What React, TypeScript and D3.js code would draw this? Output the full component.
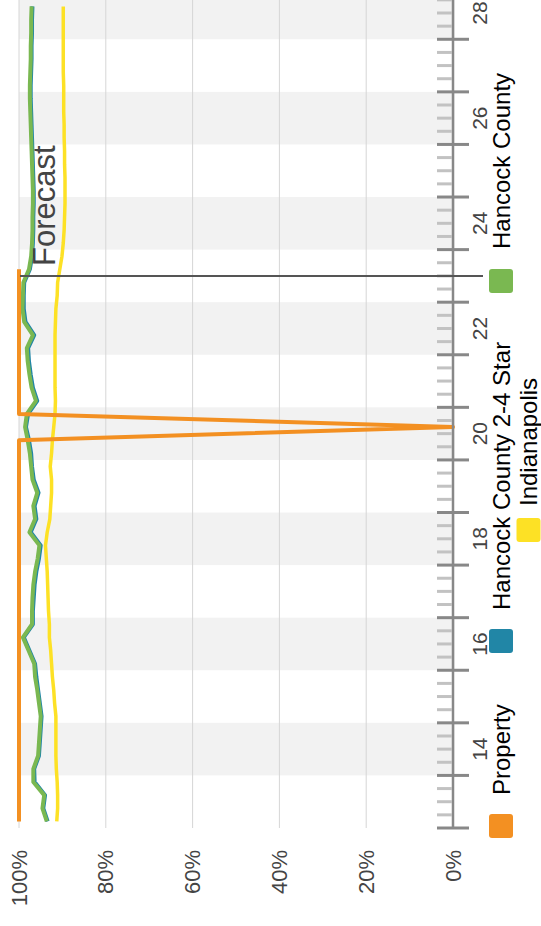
import React from 'react';
import * as d3 from 'd3';

// ---------- data ----------
const weekLabels = [14, 16, 18, 20, 22, 24, 26, 28];
const yTickValues = [0, 20, 40, 60, 80, 100];
const forecastIndex = 42; // first period of forecast (boundary before it)

const property = [
  100, 100, 100, 100, 100, 100, 100, 100, 100, 100,
  100, 100, 100, 100, 100, 100, 100, 100, 100, 100,
  100, 100, 100, 100, 100, 100, 100, 100, 100, 100,
  0, 100, 100, 100, 100, 100, 100, 100, 100, 100,
  100, 100, 100,
];

const hancock24Star = [
  93.4, 94.4, 94.0, 96.4, 96.5, 95.4, 95.2, 95.0, 94.8, 95.2,
  95.6, 96.0, 96.3, 97.6, 98.9, 96.8, 96.8, 96.6, 96.4, 96.0,
  95.4, 95.0, 97.3, 96.0, 96.4, 95.5, 96.6, 97.0, 97.2, 97.7,
  98.4, 97.9, 95.8, 96.8, 97.3, 97.7, 97.9, 96.5, 98.5, 98.9,
  98.9, 98.8, 97.5, 97.0, 96.8, 96.7, 96.7, 96.6, 96.6, 96.7,
  96.8, 96.9, 97.0, 97.1, 97.2, 97.3, 97.3, 97.2, 97.1, 97.1,
  97.0, 97.0, 96.9,
];

const hancock = [
  93.6, 94.6, 94.2, 96.7, 96.7, 95.6, 95.4, 95.2, 95.0, 95.4,
  95.8, 96.3, 96.5, 97.8, 99.1, 97.0, 97.0, 96.9, 96.7, 96.3,
  95.7, 95.3, 97.6, 96.3, 96.7, 95.8, 96.9, 97.2, 97.5, 98.0,
  98.6, 98.2, 96.1, 97.1, 97.6, 98.0, 98.2, 96.8, 98.8, 99.2,
  99.1, 99.0, 97.7, 97.2, 97.0, 96.9, 96.9, 96.8, 96.8, 96.9,
  97.0, 97.1, 97.2, 97.3, 97.4, 97.5, 97.5, 97.4, 97.3, 97.3,
  97.2, 97.2, 97.1,
];

const indianapolis = [
  91.3, 91.1, 91.1, 91.2, 91.4, 91.5, 91.5, 91.5, 91.5, 91.8,
  92.0, 92.3, 92.5, 92.7, 93.0, 93.0, 93.2, 93.3, 93.4, 93.5,
  93.7, 93.9, 93.5, 92.9, 92.7, 92.5, 92.5, 92.8, 92.5, 92.3,
  92.0, 91.7, 91.6, 91.7, 91.7, 91.7, 91.7, 91.7, 91.6, 91.5,
  91.2, 91.1, 90.6, 90.1, 89.8, 89.6, 89.5, 89.4, 89.4, 89.4,
  89.5, 89.5, 89.6, 89.6, 89.7, 89.7, 89.7, 89.8, 89.8, 89.8,
  89.8, 89.8, 89.8,
];

const seriesNames = ['Property', 'Hancock County 2-4 Star', 'Hancock County', 'Indianapolis'];
const seriesColors = ['#f39022', '#2186a6', '#7ab851', '#fde125'];

// ---------- layout ----------
const W = 926; // unrotated chart width
const FONT = '"Liberation Sans", Arial, Helvetica, sans-serif';

const x = d3.scaleLinear().domain([13, 29]).range([98, 939.3]);
const y = d3.scaleLinear().domain([0, 100]).range([453, 19]);
const periodX = (i: number) => x(13 + (i + 0.5) / 4);

const lineGen = d3
  .line<number>()
  .x((_, i) => periodX(i))
  .y((d) => y(d));

const legendLayout = [
  { idx: 0, sq: 88, tx: 131, row: 0 },
  { idx: 1, sq: 273, tx: 316, row: 0 },
  { idx: 2, sq: 633, tx: 677, row: 0 },
  { idx: 3, sq: 384, tx: 420, row: 1 },
];
const legendRowY = [501, 528.5];

export default function App() {
  const [x0, x1] = x.range();
  const majorTicks = d3.range(13, 30);
  const minorTicks = d3.range(13 * 4, 29 * 4 + 1).filter((q) => q % 4 !== 0).map((q) => q / 4);
  const shadedWeeks = weekLabels;

  const seriesData = [property, hancock24Star, hancock, indianapolis];
  const drawOrder = [3, 1, 2, 0];

  return (
    <svg
      width={541}
      height={926}
      style={{ position: 'absolute', left: 0, top: 0, display: 'block', background: '#fff' }}
    >
      <g transform={`translate(0, ${W}) rotate(-90)`} fontFamily={FONT}>
        {/* shaded week bands */}
        {shadedWeeks.map((w) => (
          <rect
            key={`band-${w}`}
            x={x(w)}
            y={y(100)}
            width={x(w + 1) - x(w)}
            height={y(0) - y(100) + 2}
            fill="#f2f2f2"
          />
        ))}
        {/* grid lines */}
        {yTickValues.map((v) => (
          <line key={`g-${v}`} x1={x0} x2={x1} y1={y(v)} y2={y(v)} stroke="#d6d6d6" strokeWidth={1} />
        ))}
        {/* y tick labels */}
        {yTickValues.map((v) => (
          <text
            key={`yl-${v}`}
            x={76}
            y={y(v)}
            textAnchor="end"
            dominantBaseline="central"
            fontSize={22}
            fill="#444"
          >
            {`${v}%`}
          </text>
        ))}
        {/* series lines */}
        {drawOrder.map((si) => (
          <path
            key={`s-${si}`}
            d={lineGen(seriesData[si]) || ''}
            fill="none"
            stroke={seriesColors[si]}
            strokeWidth={si === 3 ? 3.5 : 4}
            strokeLinejoin="round"
          />
        ))}
        {/* x axis */}
        <line x1={x0} x2={x1} y1={y(0)} y2={y(0)} stroke="#888" strokeWidth={2.5} />
        {minorTicks.map((t) => (
          <line
            key={`mt-${t}`}
            x1={x(t)}
            x2={x(t)}
            y1={y(0) - 16}
            y2={y(0) - 1}
            stroke="#c2c2c2"
            strokeWidth={3}
          />
        ))}
        {majorTicks.map((t) => (
          <line
            key={`Mt-${t}`}
            x1={x(t)}
            x2={x(t)}
            y1={y(0) - 16}
            y2={y(0) + 16}
            stroke="#888"
            strokeWidth={3}
          />
        ))}
        {weekLabels.map((w) => (
          <text key={`xl-${w}`} x={x(w + 0.5)} y={487} textAnchor="middle" fontSize={21} fill="#444">
            {w}
          </text>
        ))}
        {/* forecast marker */}
        <line
          x1={x(13 + forecastIndex / 4)}
          x2={x(13 + forecastIndex / 4)}
          y1={20}
          y2={483}
          stroke="#555"
          strokeWidth={2}
        />
        <text x={x(13 + forecastIndex / 4) + 10} y={55} fontSize={31} fill="#444">
          Forecast
        </text>
        {/* legend */}
        {legendLayout.map((l) => (
          <g key={`lg-${l.idx}`}>
            <rect
              x={l.sq}
              y={legendRowY[l.row] - 12}
              width={24}
              height={24}
              rx={3}
              fill={seriesColors[l.idx]}
            />
            <text x={l.tx} y={legendRowY[l.row]} dominantBaseline="central" fontSize={24} fill="#000">
              {seriesNames[l.idx]}
            </text>
          </g>
        ))}
      </g>
    </svg>
  );
}
